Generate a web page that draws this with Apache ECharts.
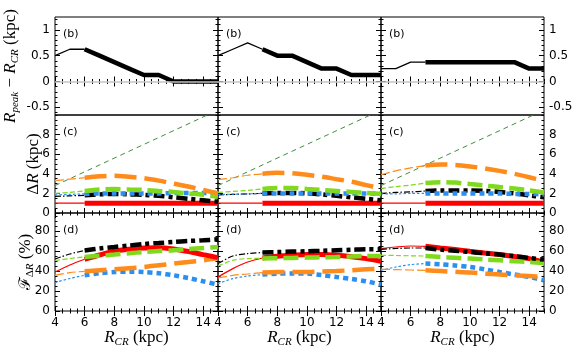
<!DOCTYPE html>
<html>
<head>
<meta charset="utf-8">
<script src="https://cdn.jsdelivr.net/npm/echarts@6/dist/echarts.min.js"></script>
<style>
html, body { margin: 0; padding: 0; background: #fff; }
#chart { width: 577px; height: 355px; }
</style>
</head>
<body>
<div id="chart"></div>
<script>
// R_CR grid (kpc), same for every panel
const rcr = [4, 5, 6, 7, 8, 9, 10, 11, 12, 13, 14, 15];
// thin line left of this R_CR, thick from it on (one per column)
const thinUntil = [6, 7, 7];
const panelTags = ['(b)', '(c)', '(d)'];

// (b) R_peak - R_CR, one list per column
const peakShift = [
  [0.5, 0.625, 0.625, 0.5, 0.375, 0.25, 0.125, 0.125, 0, 0, 0, 0],
  [0.5, 0.625, 0.75, 0.625, 0.5, 0.5, 0.375, 0.25, 0.25, 0.125, 0.125, 0.125],
  [0.25, 0.25, 0.375, 0.375, 0.375, 0.375, 0.375, 0.375, 0.375, 0.375, 0.25, 0.25]
];

// (c) Delta R (kpc)
const dRRed = [
  [1, 1, 1, 1, 1, 1, 1, 1, 1, 1, 1, 1],
  [1, 1, 1, 1, 1, 1, 1, 1, 1, 1, 1, 1],
  [1, 1, 1, 1, 1, 1, 1, 1, 1, 1, 1, 1]
];
const dRBlack = [
  [1.7, 1.75, 1.8, 1.9, 1.95, 1.9, 1.85, 1.75, 1.6, 1.45, 1.3, 1.15],
  [1.85, 1.9, 1.95, 2.0, 2.05, 2.05, 2.0, 1.9, 1.75, 1.6, 1.45, 1.3],
  [2.0, 2.1, 2.15, 2.25, 2.3, 2.3, 2.3, 2.25, 2.15, 2.0, 1.8, 1.6]
];
const dRLime = [
  [2.0, 2.1, 2.25, 2.4, 2.45, 2.4, 2.35, 2.25, 2.15, 2.0, 1.85, 1.65],
  [2.1, 2.2, 2.3, 2.45, 2.55, 2.55, 2.45, 2.35, 2.25, 2.15, 2.05, 1.95],
  [2.5, 2.7, 2.85, 3.05, 3.15, 3.1, 2.95, 2.8, 2.65, 2.5, 2.3, 2.1]
];
const dROrange = [
  [3.3, 3.45, 3.6, 3.75, 3.8, 3.7, 3.55, 3.3, 3.0, 2.7, 2.35, 2.0],
  [3.4, 3.6, 3.85, 4.0, 4.1, 4.05, 3.9, 3.7, 3.45, 3.2, 2.85, 2.5],
  [3.9, 4.3, 4.6, 4.85, 4.95, 4.9, 4.75, 4.55, 4.3, 4.0, 3.65, 3.25]
];
const dRBlue = [
  [1.85, 1.9, 1.95, 2.0, 2.0, 2.0, 2.0, 2.0, 2.05, 2.05, 2.05, 2.05],
  [1.9, 1.92, 1.95, 2.0, 2.0, 2.0, 2.0, 2.0, 2.0, 2.0, 2.0, 2.0],
  [1.95, 1.95, 2.0, 2.0, 2.0, 2.0, 2.0, 2.0, 2.0, 1.95, 1.95, 1.9]
];
// thin green reference line, end points [R_CR, Delta R]
const dRRef = [[4, 2.8], [15, 10.5]];

// (d) F_DeltaR (%)
const fBlack = [
  [52, 57, 60.5, 62.5, 64, 65.5, 67, 68, 69, 70, 70.7, 71.7],
  [47.4, 55, 57.4, 58.4, 59, 59.4, 59.7, 60.2, 60.7, 61.2, 61.7, 61.7],
  [61.7, 62.5, 63, 63, 61.4, 60.2, 59, 57.7, 56.4, 54.8, 53, 51.4]
];
const fLime = [
  [50.5, 52.5, 54, 55.2, 56.4, 57.7, 59, 60, 60.7, 62, 63, 64],
  [45, 50.7, 52.4, 52.6, 52.8, 53, 53.4, 53.7, 54, 54.5, 55, 55],
  [55.7, 55.5, 55.2, 55, 54, 53.2, 52.4, 51.5, 50.7, 49.8, 49, 48]
];
const fRed = [
  [39, 46, 51.7, 56, 59.7, 61.7, 63, 63.3, 62, 59.5, 56.4, 53.4],
  [34, 42.4, 49, 53, 54.7, 55.7, 56.4, 56.4, 55.7, 54.3, 52.4, 49.7],
  [62.4, 64, 65, 64.7, 63, 61.5, 59.7, 58, 56.4, 54.5, 52.4, 49]
];
const fOrange = [
  [35.7, 38.4, 39.7, 40.7, 41.7, 42.8, 44, 45.7, 47.4, 49, 50.7, 53],
  [33, 35.7, 37, 38.4, 39, 39, 39, 39.5, 40, 40.8, 41.7, 42.4],
  [41.7, 41.4, 41, 40.7, 40, 39.2, 38.4, 37.4, 36.4, 35.7, 35, 34]
];
const fBlue = [
  [28.4, 32.5, 35.7, 37.7, 39, 39.3, 39, 37.7, 35.7, 33, 29.7, 26.4],
  [27.4, 32.4, 35, 36.4, 37.4, 37.6, 37.4, 36, 34, 32, 29.7, 26.4],
  [40.7, 44, 46.4, 47.4, 46.7, 45.5, 44, 41.7, 39, 36.5, 34, 30.7]
];

// axis ranges / tick labels per row
const yRange = [[-0.65, 1.25], [0, 10], [0, 98]];
const yLabels = [[-0.5, 0, 0.5, 1], [0, 2, 4, 6, 8], [0, 20, 40, 60, 80]];
const yMinorStep = [0.1, 0.5, 5];
const xLabels = [4, 6, 8, 10, 12, 14];

function steps(a, b, s) {
  const out = [];
  for (let v = a; v <= b + 1e-9; v += s) out.push(Math.round(v * 1000) / 1000);
  return out;
}
function notIn(list, ref) {
  return list.filter(v => !ref.some(r => Math.abs(r - v) < 1e-6));
}

const myChart = echarts.init(document.getElementById('chart'));

const lefts = [55, 218, 381], tops = [17, 115, 213], W = 163, H = 98;
const grids = [], xAxes = [], yAxes = [], series = [], graphics = [];

const tickFont = { color: '#000', fontSize: 12, fontFamily: 'DejaVu Sans' };

function xAxisOf(gi, pos, vals, len, showLabel) {
  return {
    type: 'value', gridIndex: gi, position: pos, min: 4, max: 15,
    axisLine: { show: false }, splitLine: { show: false },
    axisTick: { show: true, inside: true, length: len, customValues: vals, lineStyle: { color: '#000', width: 1 } },
    axisLabel: Object.assign({ show: showLabel, customValues: xLabels, margin: 6 }, tickFont)
  };
}
function yAxisOf(gi, r, pos, vals, len, showLabel) {
  return {
    type: 'value', gridIndex: gi, position: pos, min: yRange[r][0], max: yRange[r][1],
    axisLine: { show: false }, splitLine: { show: false },
    axisTick: { show: true, inside: true, length: len, customValues: vals, lineStyle: { color: '#000', width: 1 } },
    axisLabel: Object.assign({ show: showLabel, customValues: yLabels[r], margin: 5 }, tickFont)
  };
}

// line looks: thin part / thick part
const looks = {
  red:    { color: '#ff0000', thinW: 1.2, thickW: 5,   thin: 'solid', thick: 'solid' },
  black:  { color: '#000000', thinW: 1.2, thickW: 4.5, thin: [6, 2, 1.5, 2], thick: [11, 4, 4, 4] },
  lime:   { color: '#7fd91c', thinW: 1.2, thickW: 4.5, thin: [5, 2.5], thick: [15, 6] },
  orange: { color: '#ff8c1a', thinW: 1.2, thickW: 4.5, thin: [9, 3], thick: [22, 8] },
  blue:   { color: '#2b8ff0', thinW: 1.2, thickW: 4.5, thin: [2.5, 2], thick: [5, 4] },
  solid:  { color: '#000000', thinW: 1.3, thickW: 4.5, thin: 'solid', thick: 'solid' }
};

function addCurve(gi, vals, t, look, smooth) {
  const thin = [], thick = [];
  rcr.forEach((x, k) => {
    if (x <= t) thin.push([x, vals[k]]);
    if (x >= t) thick.push([x, vals[k]]);
  });
  [[thin, look.thinW, look.thin], [thick, look.thickW, look.thick]].forEach(([d, w, dash]) => {
    series.push({
      type: 'line', xAxisIndex: gi * 4, yAxisIndex: gi * 4, data: d,
      symbol: 'none', smooth: smooth, animation: false,
      lineStyle: { color: look.color, width: w, type: dash, cap: 'butt' }
    });
  });
}

for (let r = 0; r < 3; r++) {
  for (let c = 0; c < 3; c++) {
    const gi = r * 3 + c;
    grids.push({ left: lefts[c], top: tops[r], width: W, height: H, show: true,
      borderColor: '#000', borderWidth: 1, backgroundColor: 'transparent' });

    const xMinor = notIn(steps(4, 15, 0.5), xLabels);
    xAxes.push(xAxisOf(gi, 'bottom', xLabels, 5, r === 2));
    xAxes.push(xAxisOf(gi, 'bottom', xMinor, 2.5, false));
    xAxes.push(xAxisOf(gi, 'top', xLabels, 5, false));
    xAxes.push(xAxisOf(gi, 'top', xMinor, 2.5, false));

    const lo = Math.ceil(yRange[r][0] / yMinorStep[r]) * yMinorStep[r];
    const yMinor = notIn(steps(lo, yRange[r][1], yMinorStep[r]), yLabels[r]);
    yAxes.push(yAxisOf(gi, r, 'left', yLabels[r], 5, c === 0));
    yAxes.push(yAxisOf(gi, r, 'left', yMinor, 2.5, false));
    yAxes.push(yAxisOf(gi, r, 'right', yLabels[r], 5, c === 2));
    yAxes.push(yAxisOf(gi, r, 'right', yMinor, 2.5, false));

    const t = thinUntil[c];
    if (r === 0) {
      series.push({
        type: 'line', xAxisIndex: gi * 4, yAxisIndex: gi * 4, data: [],
        markLine: { silent: true, symbol: 'none', animation: false, label: { show: false },
          lineStyle: { color: '#c4c4c4', width: 1.5, type: 'solid' }, data: [{ yAxis: 0 }] }
      });
      addCurve(gi, peakShift[c], t, looks.solid, false);
    } else if (r === 1) {
      series.push({
        type: 'line', xAxisIndex: gi * 4, yAxisIndex: gi * 4, data: dRRef,
        symbol: 'none', animation: false,
        lineStyle: { color: '#3d8f3d', width: 1, type: [5, 4] }
      });
      addCurve(gi, dRRed[c], t, looks.red, 0.3);
      addCurve(gi, dRBlack[c], t, looks.black, 0.3);
      addCurve(gi, dRBlue[c], t, looks.blue, 0.3);
      addCurve(gi, dRLime[c], t, looks.lime, 0.3);
      addCurve(gi, dROrange[c], t, looks.orange, 0.3);
    } else {
      addCurve(gi, fBlue[c], t, looks.blue, 0.3);
      addCurve(gi, fOrange[c], t, looks.orange, 0.3);
      addCurve(gi, fRed[c], t, looks.red, 0.3);
      addCurve(gi, fLime[c], t, looks.lime, 0.3);
      addCurve(gi, fBlack[c], t, looks.black, 0.3);
    }

    graphics.push({
      type: 'text', left: lefts[c] + 8, top: tops[r] + 12,
      style: { text: panelTags[r], fill: '#000', font: '11px "DejaVu Sans"' }
    });
  }
}

// axis titles (math-like serif)
const serif = 'Liberation Serif';
const richMath = {
  i: { fontFamily: serif, fontStyle: 'italic', fontSize: 17, lineHeight: 20, verticalAlign: 'middle' },
  n: { fontFamily: serif, fontSize: 17, lineHeight: 20, verticalAlign: 'middle' },
  s: { fontFamily: serif, fontStyle: 'italic', fontSize: 11, lineHeight: 11, verticalAlign: 'bottom' },
  sn: { fontFamily: serif, fontSize: 11, lineHeight: 11, verticalAlign: 'bottom' },
  f: { fontFamily: 'DejaVu Serif', fontSize: 16, lineHeight: 20, verticalAlign: 'middle' }
};
function mathText(x, y, text, rot) {
  graphics.push({
    type: 'text', x: x, y: y, rotation: rot,
    style: { text: text, rich: richMath, fill: '#000', align: 'center', verticalAlign: 'middle' }
  });
}
mathText(11, 66, '{i|R}{s|peak}{n| − }{i|R}{s|CR}{n| (kpc)}', Math.PI / 2);
mathText(34, 164, '{n|Δ}{i|R}{n| (kpc)}', Math.PI / 2);
mathText(26, 262, '{f|ℱ}{sn|Δ}{s|R}{n| (%)}', Math.PI / 2);
for (let c = 0; c < 3; c++) {
  mathText(lefts[c] + W / 2, 338, '{i|R}{s|CR}{n| (kpc)}', 0);
}

const option = {
  animation: false,
  backgroundColor: '#fff',
  grid: grids,
  xAxis: xAxes,
  yAxis: yAxes,
  series: series,
  graphic: graphics
};
myChart.setOption(option);

window.addEventListener('resize', function () {
  myChart.resize();
});
</script>
</body>
</html>
